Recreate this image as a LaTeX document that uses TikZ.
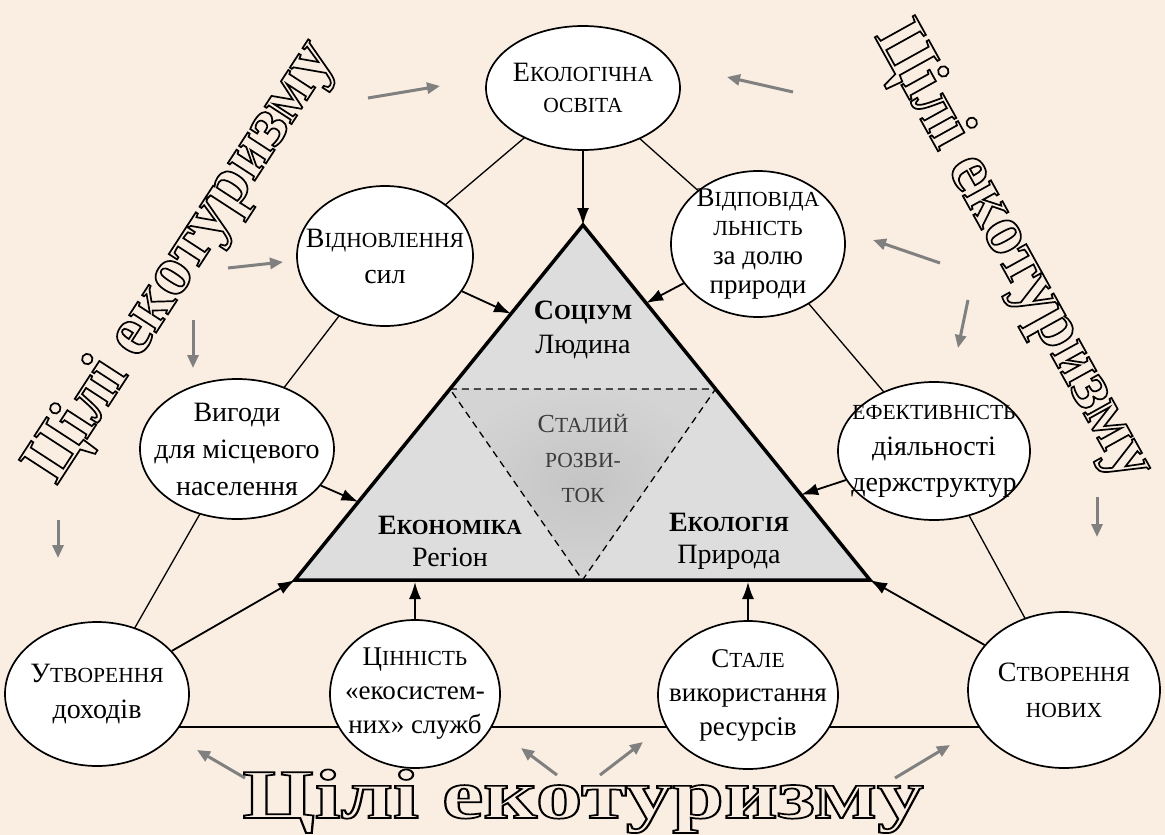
\documentclass[tikz,border=0pt]{standalone}
\usepackage{fontspec}
\setmainfont{Liberation Serif}
\usetikzlibrary{shapes.geometric,arrows.meta,calc}
\definecolor{bg}{RGB}{250,237,225}
\definecolor{tri}{RGB}{221,221,221}
\definecolor{garr}{RGB}{128,128,128}
\definecolor{itxt}{RGB}{60,60,60}
\newcommand\scsz{\fontsize{21.5}{30}\selectfont}
\newcommand\Sc[2]{#1{\scsz #2}}
\newcommand\Sa[1]{{\scsz #1}}
\newcommand\bigstr{Цілі екотуризму}
\newcommand\outl[1]{\special{pdf:literal direct 1 Tr 1.7 w}#1\special{pdf:literal direct 0 Tr}}
\tikzset{
  oval/.style={ellipse, draw=black, line width=1.7pt, fill=white, inner sep=0pt},
  txt/.style={align=center, inner sep=0pt, font=\fontsize{28}{36}\selectfont},
  thinl/.style={line width=1.3pt, black},
  barrow/.style={line width=1.8pt, -{Latex[length=17pt,width=12pt]}},
  garrow/.style={line width=3pt, garr, -{Triangle[length=13pt,width=11pt]}},
  bigtxt/.style={inner sep=0pt, text=black, font=\fontsize{70}{70}\selectfont\bfseries},
}
\begin{document}
\begin{tikzpicture}[x=1pt,y=-1pt]
\useasboundingbox[fill=bg] (0,0) rectangle (1165,835);

% centres of the ellipses
\coordinate (c1) at (583,88);
\coordinate (c2) at (385,256);
\coordinate (c3) at (758,244);
\coordinate (c4) at (237,449);
\coordinate (c5) at (934,451);
\coordinate (c6) at (97,694);
\coordinate (c7) at (415,694);
\coordinate (c8) at (748,695);
\coordinate (c9) at (1064,690);
\coordinate (bl) at (97,727);
\coordinate (br) at (1064,727);

% outer thin triangle
\draw[thinl] (c1) -- (c2) -- (c4) -- (c6);
\draw[thinl] (c1) -- (c3) -- (c5) -- (c9);
\draw[thinl] (bl) -- (br);

% central triangle
\coordinate (A) at (583,225);
\coordinate (L) at (295,580);
\coordinate (R) at (870,580);
\fill[tri] (A) -- (L) -- (R) -- cycle;
\coordinate (iL) at ($(A)!0.462!(L)$);
\coordinate (iR) at ($(A)!0.462!(R)$);
\coordinate (iB) at ($(L)!0.5!(R)$);
\shade[inner color=gray!46, outer color=gray!34] (iL) -- (iR) -- (iB) -- cycle;
\draw[line width=1.3pt, dash pattern=on 7pt off 5pt] (iL) -- (iR) -- (iB) -- cycle;
\draw[line width=3.5pt, line join=miter] (A) -- (L) -- (R) -- cycle;

\node[txt, font=\fontsize{28}{34}\selectfont] (soc) at (583,330) {\textbf{\Sc{С}{ОЦІУМ}}\\Людина};
\node[txt, text=itxt, font=\fontsize{26}{35}\selectfont] (stal) at (583,458) {\Sc{С}{ТАЛИЙ}\\\Sa{РОЗВИ-}\\\Sa{ТОК}};
\node[txt, font=\fontsize{28}{32}\selectfont] (ekon) at (450,541) {\textbf{\Sc{Е}{КОНОМІКА}}\\Регіон};
\node[txt, font=\fontsize{28}{32}\selectfont] (ekol) at (729,541) {\textbf{\Sc{Е}{КОЛОГІЯ}}\\Природа};

% ellipses
\node[oval, minimum width=194pt, minimum height=124pt] (e1) at (c1) {};
\node[oval, minimum width=176pt, minimum height=140pt] (e2) at (c2) {};
\node[oval, minimum width=174pt, minimum height=146pt] (e3) at (c3) {};
\node[oval, minimum width=194pt, minimum height=140pt] (e4) at (c4) {};
\node[oval, minimum width=192pt, minimum height=138pt] (e5) at (c5) {};
\node[oval, minimum width=184pt, minimum height=144pt] (e6) at (c6) {};
\node[oval, minimum width=170pt, minimum height=148pt] (e7) at (c7) {};
\node[oval, minimum width=180pt, minimum height=148pt] (e8) at (c8) {};
\node[oval, minimum width=192pt, minimum height=156pt] (e9) at (c9) {};

\node[txt, font=\fontsize{28}{31}\selectfont] (t1) at (c1) {\Sc{Е}{КОЛОГІЧНА}\\\Sa{ОСВІТА}};
\node[txt] (t2) at (c2) {\Sc{В}{ІДНОВЛЕННЯ}\\сил};
\node[txt, font=\fontsize{27}{29}\selectfont] (t3) at (c3) {\Sc{В}{ІДПОВІДА}\\\Sa{ЛЬНІСТЬ}\\за долю\\природи};
\node[txt, font=\fontsize{28}{37}\selectfont] (t4) at (c4) {Вигоди\\для місцевого\\населення};
\node[txt, font=\fontsize{28}{36}\selectfont] (t5) at (c5) {\Sa{ЕФЕКТИВНІСТЬ}\\діяльності\\держструктур};
\node[txt] (t6) at (c6) {\Sc{У}{ТВОРЕННЯ}\\доходів};
\node[txt, font=\fontsize{27}{34}\selectfont] (t7) at (c7) {\Sc{Ц}{ІННІСТЬ}\\«екосистем-\\них» служб};
\node[txt, font=\fontsize{27}{34}\selectfont] (t8) at (c8) {\Sc{С}{ТАЛЕ}\\використання\\ресурсів};
\node[txt] (t9) at (c9) {\Sc{С}{ТВОРЕННЯ}\\\Sa{НОВИХ}};

% black arrows to the central triangle
\coordinate (a2) at ($(A)!0.25!(L)$);
\coordinate (a3) at ($(A)!0.22!(R)$);
\coordinate (a4) at ($(A)!0.78!(L)$);
\coordinate (a5) at ($(A)!0.76!(R)$);
\coordinate (a7) at (415,582);
\coordinate (a8) at (748,582);
\draw[barrow] (e1) -- (A);
\draw[barrow] (e2) -- (a2);
\draw[barrow] (e3) -- (a3);
\draw[barrow] (e4) -- (a4);
\draw[barrow] (e5) -- (a5);
\draw[barrow] (e6) -- (L);
\draw[barrow] (e9) -- (R);
\draw[barrow] (e7) -- (a7);
\draw[barrow] (e8) -- (a8);

% grey arrows
\foreach \n/\sx/\sy/\ex/\ey in {1/368/98/440/86, 2/793/92/727/77, 3/228/268/283/262,
  4/193/320/193/368, 5/58/520/58/558, 6/940/263/873/240, 7/968/300/958/348,
  8/1097/497/1097/537, 9/245/778/197/750, 10/557/775/521/748, 11/600/775/643/742,
  12/895/778/950/745}{
  \coordinate (g\n s) at (\sx,\sy);
  \coordinate (g\n e) at (\ex,\ey);
  \draw[garrow] (g\n s) -- (g\n e);
}

% outlined titles
\node[bigtxt, rotate=57] (ltxt) at (182,262) {\outl{\bigstr}};
\node[bigtxt, rotate=-61] (rtxt) at (1013,252) {\outl{\bigstr}};
\node[bigtxt, anchor=base] (btxt) at (583,818) {\outl{\scalebox{1.33}[1]{\bigstr}}};
\end{tikzpicture}
\end{document}
